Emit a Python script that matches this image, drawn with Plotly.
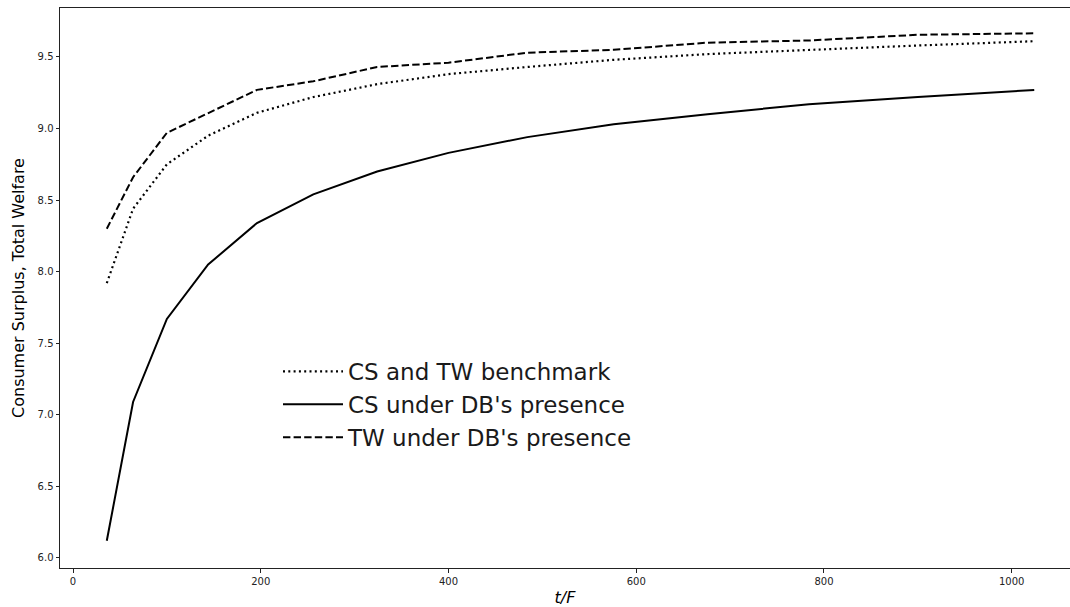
import plotly.graph_objects as go

t_over_F = [36, 64, 100, 144, 196, 256, 324, 400, 484, 576, 676, 784, 900, 1024]
cs_tw_benchmark = [7.92, 8.44, 8.75, 8.95, 9.11, 9.22, 9.31, 9.38, 9.43, 9.48, 9.52, 9.55, 9.58, 9.61]
cs_db = [6.12, 7.09, 7.67, 8.05, 8.34, 8.54, 8.70, 8.83, 8.94, 9.03, 9.10, 9.17, 9.22, 9.27]
tw_db = [8.30, 8.66, 8.97, 9.11, 9.27, 9.33, 9.43, 9.46, 9.53, 9.55, 9.60, 9.615, 9.655, 9.665]
names = ["CS and TW benchmark", "CS under DB's presence", "TW under DB's presence"]

fig = go.Figure()
fig.add_trace(go.Scatter(x=t_over_F, y=cs_tw_benchmark, mode="lines", name=names[0],
                         line=dict(color="black", width=2.2, dash="2px,3.3px")))
fig.add_trace(go.Scatter(x=t_over_F, y=cs_db, mode="lines", name=names[1],
                         line=dict(color="black", width=2)))
fig.add_trace(go.Scatter(x=t_over_F, y=tw_db, mode="lines", name=names[2],
                         line=dict(color="black", width=2, dash="7.4px,3.2px")))

font = "DejaVu Sans, sans-serif"
fig.update_layout(
    width=1070, height=607,
    margin=dict(l=60, r=0, t=8, b=39),
    paper_bgcolor="white", plot_bgcolor="white",
    font=dict(family=font, color="black"),
    showlegend=True,
    legend=dict(x=(278 - 60) / 1010, y=(568 - 350) / 560, xanchor="left", yanchor="top",
                bgcolor="rgba(0,0,0,0)", borderwidth=0,
                font=dict(size=23, family=font, color="#1a1a1a"),
                itemwidth=60),
    xaxis=dict(range=[-13.85, 1062.1], showgrid=False, zeroline=False,
               showline=True, linecolor="#222", linewidth=1, mirror=True,
               ticks="outside", ticklen=3.5, tickwidth=1, tickcolor="#222",
               tickvals=[0, 200, 400, 600, 800, 1000],
               tickfont=dict(size=10, family=font, color="#222"),
               title=dict(text="<i>t/F</i>", font=dict(size=16, family=font), standoff=6)),
    yaxis=dict(range=[5.930, 9.842], showgrid=False, zeroline=False,
               showline=True, linecolor="#222", linewidth=1,
               ticks="outside", ticklen=3.5, tickwidth=1, tickcolor="#222",
               tickvals=[6.0, 6.5, 7.0, 7.5, 8.0, 8.5, 9.0, 9.5],
               ticktext=["6.0", "6.5", "7.0", "7.5", "8.0", "8.5", "9.0", "9.5"],
               tickfont=dict(size=10, family=font, color="#222"),
               title=dict(text="Consumer Surplus, Total Welfare", font=dict(size=16, family=font), standoff=8)),
)

fig.write_html("out.html")
